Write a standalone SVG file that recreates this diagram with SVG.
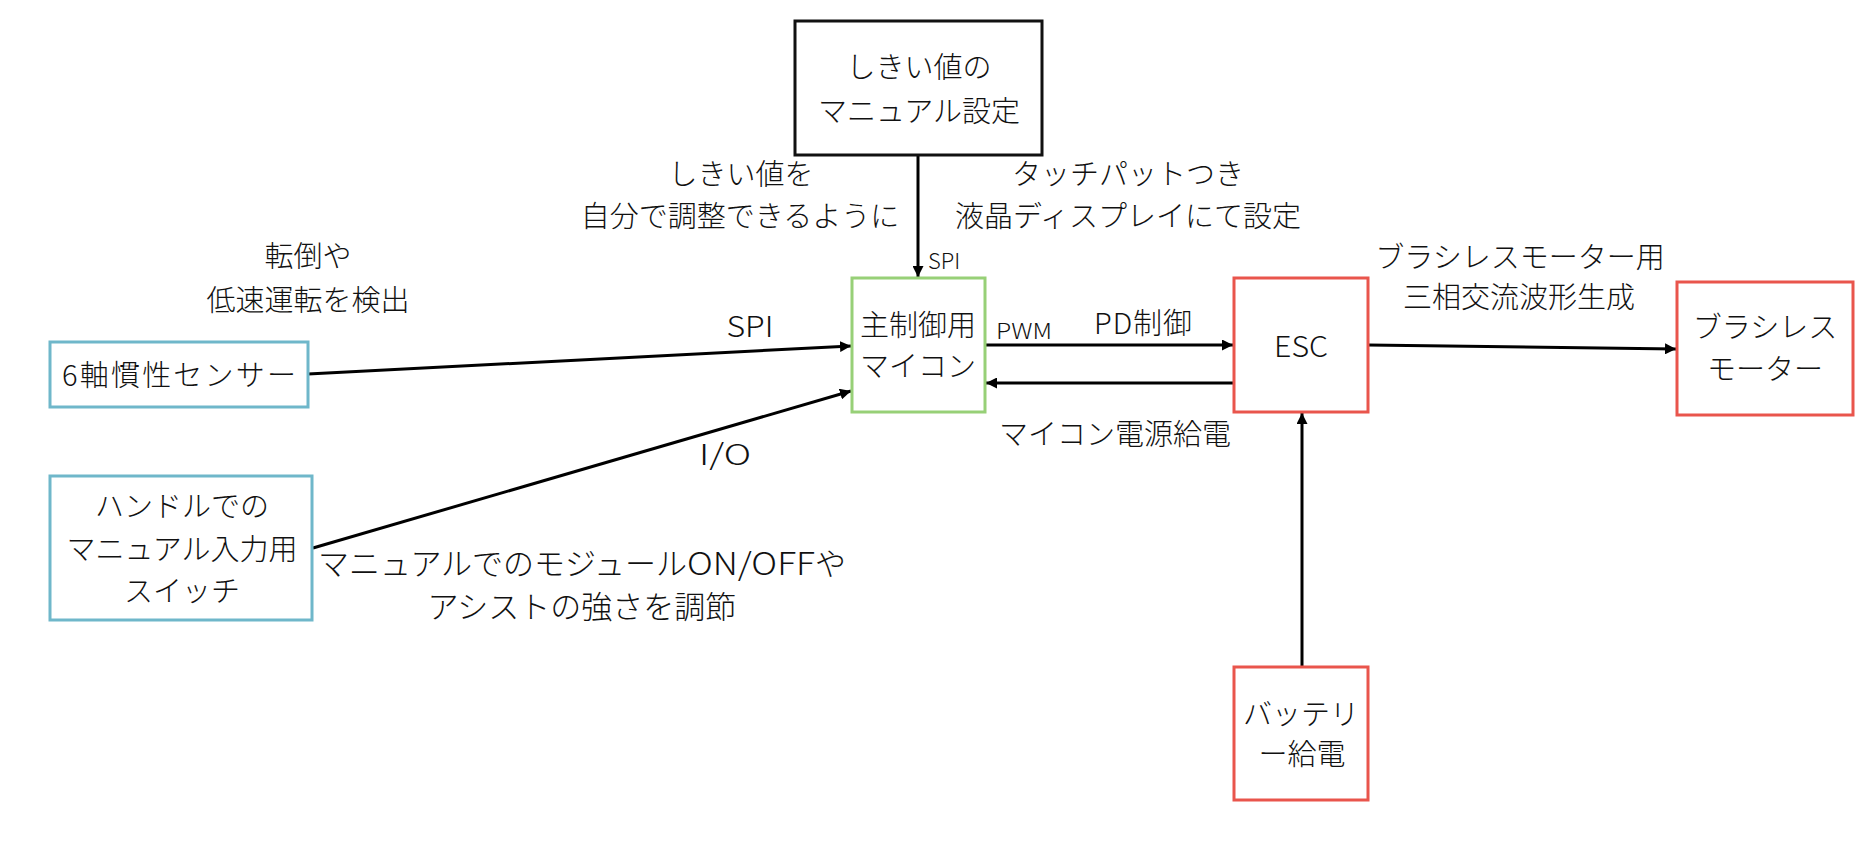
<svg xmlns="http://www.w3.org/2000/svg" width="1860" height="866" viewBox="0 0 1860 866">
<defs>
<style>
text{font-family:"Noto Sans CJK JP","Noto Sans",sans-serif;font-size:29px;fill:#111;text-anchor:middle;font-weight:300}
.s{font-size:22px;text-anchor:start}
.l{font-size:31px}
.box{fill:#fff;stroke-width:3}
.blk{stroke:#111}
.blu{stroke:#6fb7ca}
.grn{stroke:#97d077}
.red{stroke:#e9554c}
.c{stroke:#000;stroke-width:3;fill:none;marker-end:url(#ah)}
</style>
<marker id="ah" viewBox="0 0 10 10" refX="10" refY="5" markerWidth="11" markerHeight="11" markerUnits="userSpaceOnUse" orient="auto">
<path d="M0,0 L10,5 L0,10 z" fill="#000"/>
</marker>
</defs>
<rect width="1860" height="866" fill="#fff"/>

<g id="connectors">
<line class="c" x1="308" y1="374" x2="851" y2="346"/>
<line class="c" x1="313" y1="548" x2="851" y2="391"/>
<line class="c" x1="918" y1="155" x2="918" y2="277"/>
<line class="c" x1="985" y1="345" x2="1233" y2="345"/>
<line class="c" x1="1234" y1="383" x2="986" y2="383"/>
<line class="c" x1="1302" y1="667" x2="1302" y2="413"/>
<line class="c" x1="1368" y1="345" x2="1676" y2="349"/>
</g>

<g id="labels">
<text x="308" y="267">転倒や</text>
<text x="308" y="311">低速運転を検出</text>
<text x="750" y="337" textLength="47" lengthAdjust="spacingAndGlyphs">SPI</text>
<text x="725" y="465" textLength="52" lengthAdjust="spacingAndGlyphs">I/O</text>
<text class="l" x="318" y="575" style="text-anchor:start">マニュアルでのモジュール<tspan textLength="128" lengthAdjust="spacingAndGlyphs">ON/OFF</tspan>や</text>
<text class="l" x="582" y="618">アシストの強さを調節</text>
<text x="741" y="185">しきい値を</text>
<text x="740" y="227">自分で調整できるように</text>
<text x="1128" y="185">タッチパットつき</text>
<text x="1128" y="227">液晶ディスプレイにて設定</text>
<text class="s" x="928" y="269">SPI</text>
<text class="s" x="996" y="339" textLength="56" lengthAdjust="spacingAndGlyphs">PWM</text>
<text x="1143" y="334" textLength="98" lengthAdjust="spacing">PD制御</text>
<text x="1115" y="445">マイコン電源給電</text>
<text x="1520" y="268">ブラシレスモーター用</text>
<text x="1519" y="308">三相交流波形生成</text>
</g>

<g id="node-threshold">
<rect class="box blk" x="795" y="21" width="247" height="134"/>
<text x="919" y="78">しきい値の</text>
<text x="919" y="122">マニュアル設定</text>
</g>

<g id="node-mcu">
<rect class="box grn" x="852" y="278" width="133" height="134"/>
<text x="918" y="336">主制御用</text>
<text x="918" y="377">マイコン</text>
</g>

<g id="node-esc">
<rect class="box red" x="1234" y="278" width="134" height="134"/>
<text x="1301" y="357" textLength="54" lengthAdjust="spacingAndGlyphs">ESC</text>
</g>

<g id="node-motor">
<rect class="box red" x="1677" y="282" width="176" height="133"/>
<text x="1765" y="338">ブラシレス</text>
<text x="1765" y="380">モーター</text>
</g>

<g id="node-battery">
<rect class="box red" x="1234" y="667" width="134" height="133"/>
<text x="1301" y="725">バッテリ</text>
<text x="1302" y="765">ー給電</text>
</g>

<g id="node-imu">
<rect class="box blu" x="50" y="342" width="258" height="65"/>
<text x="179" y="386" textLength="234" lengthAdjust="spacing">6軸慣性センサー</text>
</g>

<g id="node-switch">
<rect class="box blu" x="50" y="476" width="262" height="144"/>
<text x="182" y="517">ハンドルでの</text>
<text x="182" y="560">マニュアル入力用</text>
<text x="182" y="602">スイッチ</text>
</g>
</svg>
